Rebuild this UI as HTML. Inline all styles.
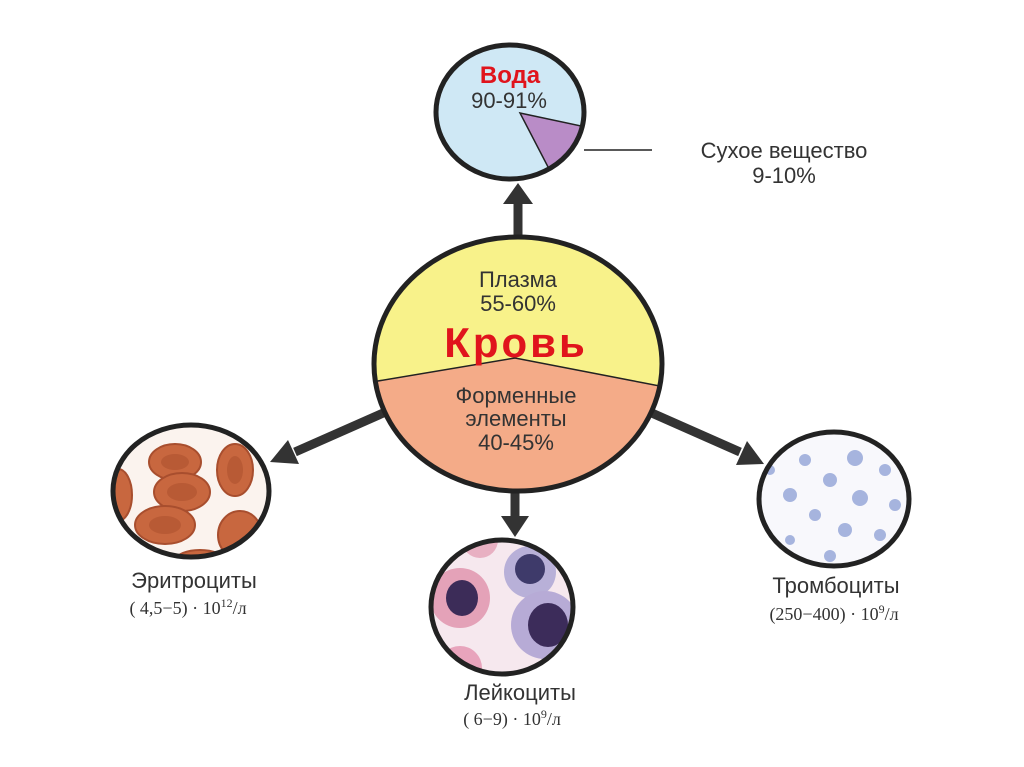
<!DOCTYPE html>
<html><head><meta charset="utf-8"><style>
html,body{margin:0;padding:0;background:#fff;}
svg{display:block}
text{font-family:"Liberation Sans","DejaVu Sans",sans-serif;}
.serif{font-family:"Liberation Serif","DejaVu Serif",serif;}
</style></head><body>
<svg width="1024" height="767" viewBox="0 0 1024 767" xmlns="http://www.w3.org/2000/svg">
<defs>
<clipPath id="cm"><ellipse cx="518" cy="364" rx="144" ry="127"/></clipPath>
<clipPath id="cl"><ellipse cx="191" cy="491" rx="78" ry="66"/></clipPath>
<clipPath id="cb"><ellipse cx="502" cy="607" rx="71" ry="67"/></clipPath>
<clipPath id="cr"><ellipse cx="834" cy="499" rx="75" ry="67"/></clipPath>
<clipPath id="cw"><ellipse cx="510" cy="112" rx="74" ry="67"/></clipPath>
</defs>
<g fill="#333" stroke="#333">
<line x1="518" y1="240" x2="518" y2="200" stroke-width="9"/>
<polygon points="503,204 533,204 518,183" stroke="none"/>
<line x1="390" y1="410" x2="295" y2="452" stroke-width="9"/>
<polygon points="270,462 288,440 299,464" stroke="none"/>
<line x1="645" y1="410" x2="740" y2="452" stroke-width="9"/>
<polygon points="764,464 736,465 747,441" stroke="none"/>
<line x1="515" y1="488" x2="515" y2="520" stroke-width="9"/>
<polygon points="501,516 529,516 515,537" stroke="none"/>
</g>
<ellipse cx="510" cy="112" rx="74" ry="67" fill="#cfe8f5"/>
<g clip-path="url(#cw)"><polygon points="520,113 600,130 560,190" fill="#b98cc7" stroke="#222" stroke-width="1.5"/></g>
<ellipse cx="510" cy="112" rx="74" ry="67" fill="none" stroke="#222" stroke-width="5"/>
<line x1="584" y1="150" x2="652" y2="150" stroke="#222" stroke-width="1.5"/>
<text x="510" y="83" text-anchor="middle" font-size="24" font-weight="bold" fill="#e0141c">Вода</text>
<text x="509" y="108" text-anchor="middle" font-size="22" fill="#333">90-91%</text>
<text x="784" y="158" text-anchor="middle" font-size="22" fill="#333">Сухое вещество</text>
<text x="784" y="183" text-anchor="middle" font-size="22" fill="#333">9-10%</text>
<g clip-path="url(#cm)">
<rect x="370" y="230" width="300" height="270" fill="#f8f28a"/>
<polygon points="360,384 515,358 670,388 670,500 360,500" fill="#f4ab88" stroke="#222" stroke-width="1.5"/>
</g>
<ellipse cx="518" cy="364" rx="144" ry="127" fill="none" stroke="#222" stroke-width="5"/>
<text x="518" y="287" text-anchor="middle" font-size="22" fill="#333">Плазма</text>
<text x="518" y="311" text-anchor="middle" font-size="22" fill="#333">55-60%</text>
<text x="516" y="357" text-anchor="middle" font-size="42" font-weight="bold" fill="#e0141c" letter-spacing="3">Кровь</text>
<text x="516" y="403" text-anchor="middle" font-size="22" fill="#333">Форменные</text>
<text x="516" y="426" text-anchor="middle" font-size="22" fill="#333">элементы</text>
<text x="516" y="450" text-anchor="middle" font-size="22" fill="#333">40-45%</text>
<g clip-path="url(#cl)">
<rect x="100" y="420" width="180" height="150" fill="#fbf3ee"/>
<g fill="#c8673f" stroke="#a84e2e" stroke-width="2">
<ellipse cx="175" cy="462" rx="26" ry="18"/><ellipse cx="182" cy="492" rx="28" ry="19"/>
<ellipse cx="235" cy="470" rx="18" ry="26"/><ellipse cx="165" cy="525" rx="30" ry="19"/>
<ellipse cx="240" cy="535" rx="22" ry="24"/><ellipse cx="118" cy="495" rx="14" ry="26"/>
<ellipse cx="200" cy="560" rx="24" ry="10"/>
</g>
<g fill="#b85a35"><ellipse cx="175" cy="462" rx="14" ry="8"/><ellipse cx="182" cy="492" rx="15" ry="9"/><ellipse cx="235" cy="470" rx="8" ry="14"/><ellipse cx="165" cy="525" rx="16" ry="9"/></g>
</g>
<ellipse cx="191" cy="491" rx="78" ry="66" fill="none" stroke="#222" stroke-width="5"/>
<g clip-path="url(#cb)">
<rect x="425" y="535" width="160" height="150" fill="#f6e8ee"/>
<circle cx="460" cy="598" r="30" fill="#e4a2b8"/><ellipse cx="462" cy="598" rx="16" ry="18" fill="#3c2c58"/>
<circle cx="530" cy="572" r="26" fill="#b8b0d8"/><circle cx="530" cy="569" r="15" fill="#3e3a6a"/>
<circle cx="545" cy="625" r="34" fill="#b7abd6"/><ellipse cx="548" cy="625" rx="20" ry="22" fill="#3c2c5a"/>
<circle cx="460" cy="668" r="22" fill="#e8a4bc"/>
<circle cx="480" cy="540" r="18" fill="#e8b0c2"/>
</g>
<ellipse cx="502" cy="607" rx="71" ry="67" fill="none" stroke="#222" stroke-width="5"/>
<g clip-path="url(#cr)">
<rect x="755" y="428" width="160" height="145" fill="#f8f8fc"/>
<g fill="#a6b4de">
<circle cx="805" cy="460" r="6"/><circle cx="855" cy="458" r="8"/><circle cx="885" cy="470" r="6"/>
<circle cx="790" cy="495" r="7"/><circle cx="830" cy="480" r="7"/><circle cx="860" cy="498" r="8"/>
<circle cx="895" cy="505" r="6"/><circle cx="815" cy="515" r="6"/><circle cx="845" cy="530" r="7"/>
<circle cx="790" cy="540" r="5"/><circle cx="880" cy="535" r="6"/><circle cx="830" cy="556" r="6"/>
<circle cx="770" cy="470" r="5"/>
</g>
</g>
<ellipse cx="834" cy="499" rx="75" ry="67" fill="none" stroke="#222" stroke-width="5"/>
<text x="194" y="588" text-anchor="middle" font-size="22" fill="#333">Эритроциты</text>
<text x="188" y="614" text-anchor="middle" font-size="18" class="serif" fill="#333">( 4,5−5) · 10<tspan font-size="12" dy="-7">12</tspan><tspan dy="7">/л</tspan></text>
<text x="836" y="593" text-anchor="middle" font-size="22" fill="#333">Тромбоциты</text>
<text x="834" y="620" text-anchor="middle" font-size="18" class="serif" fill="#333">(250−400) · 10<tspan font-size="12" dy="-7">9</tspan><tspan dy="7">/л</tspan></text>
<text x="520" y="700" text-anchor="middle" font-size="22" fill="#333">Лейкоциты</text>
<text x="512" y="725" text-anchor="middle" font-size="18" class="serif" fill="#333">( 6−9) · 10<tspan font-size="12" dy="-7">9</tspan><tspan dy="7">/л</tspan></text>
</svg>
</body></html>
